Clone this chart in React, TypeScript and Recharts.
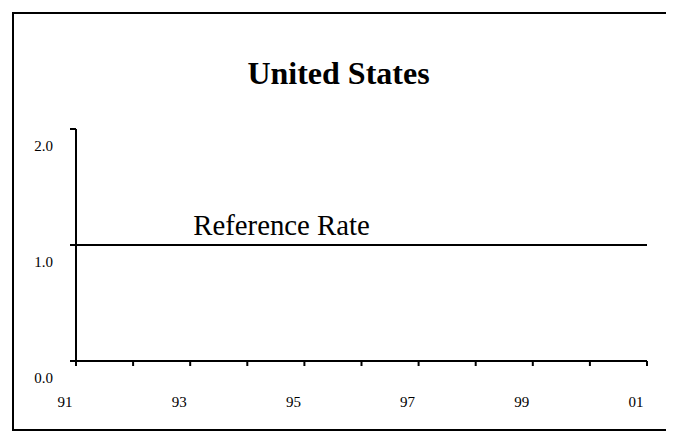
import { LineChart, XAxis, YAxis, Line, LabelList } from "recharts";

const years = [1991, 1992, 1993, 1994, 1995, 1996, 1997, 1998, 1999, 2000, 2001];
const referenceRate = [1.0, 1.0, 1.0, 1.0, 1.0, 1.0, 1.0, 1.0, 1.0, 1.0, 1.0];
const yTicks = [0, 1, 2];
const title = "United States";
const seriesLabel = "Reference Rate";

const data = years.map((year, i) => ({ year, rate: referenceRate[i] }));

const FONT = '"Liberation Serif", "Times New Roman", serif';

const XTick = (props: any) => {
    const { x, y, payload } = props;
    const yr = payload.value as number;
    if (yr % 2 === 0) return null;
    return (
        <text x={x - 3.5} y={y + 41} textAnchor="end" fontSize={15} fontFamily={FONT} fill="#000">
            {String(yr % 100).padStart(2, "0")}
        </text>
    );
};

const YTick = (props: any) => {
    const { x, y, payload } = props;
    return (
        <text x={x - 17} y={y + 22} textAnchor="end" fontSize={15} fontFamily={FONT} fill="#000">
            {(payload.value as number).toFixed(1)}
        </text>
    );
};

// label sits on the line just right of the 93 tick
const RateLabel = (props: any) => {
    const { index } = props;
    if (index !== 2) return null;
    const x = props.x ?? props.viewBox?.x;
    const y = props.y ?? props.viewBox?.y;
    return (
        <text x={x + 3} y={y - 10} textAnchor="start" fontSize={28.8} fontFamily={FONT} fill="#000">
            {seriesLabel}
        </text>
    );
};

const App = () => {
    return (
        <div
            style={{
                position: "relative",
                marginLeft: 4,
                marginTop: 4,
                width: 660,
                height: 415,
                borderTop: "2px solid #000",
                borderLeft: "2px solid #000",
                borderBottom: "2px solid #000",
                background: "#fff",
                overflow: "hidden",
            }}
        >
            <div
                style={{
                    position: "absolute",
                    left: 324.5,
                    top: 43.2,
                    transform: "translateX(-50%)",
                    fontFamily: FONT,
                    fontWeight: "bold",
                    fontSize: 32,
                    lineHeight: "32px",
                    whiteSpace: "nowrap",
                }}
            >
                {title}
            </div>
            <LineChart
                width={660}
                height={415}
                data={data}
                margin={{ top: 115, right: 27, left: 0, bottom: 0 }}
            >
                <XAxis
                    dataKey="year"
                    type="number"
                    domain={[1991, 2001]}
                    ticks={years}
                    height={68}
                    tickSize={5}
                    tickMargin={0}
                    axisLine={{ stroke: "#000", strokeWidth: 2 }}
                    tickLine={{ stroke: "#000", strokeWidth: 2 }}
                    tick={<XTick />}
                    interval={0}
                />
                <YAxis
                    domain={[0, 2]}
                    ticks={yTicks}
                    width={62}
                    tickSize={6}
                    tickMargin={0}
                    axisLine={{ stroke: "#000", strokeWidth: 2 }}
                    tickLine={{ stroke: "#000", strokeWidth: 2 }}
                    tick={<YTick />}
                    interval={0}
                />
                <Line
                    dataKey="rate"
                    stroke="#000"
                    strokeWidth={2}
                    dot={false}
                    isAnimationActive={false}
                >
                    <LabelList dataKey="rate" content={<RateLabel />} />
                </Line>
            </LineChart>
        </div>
    );
};

export default App;
